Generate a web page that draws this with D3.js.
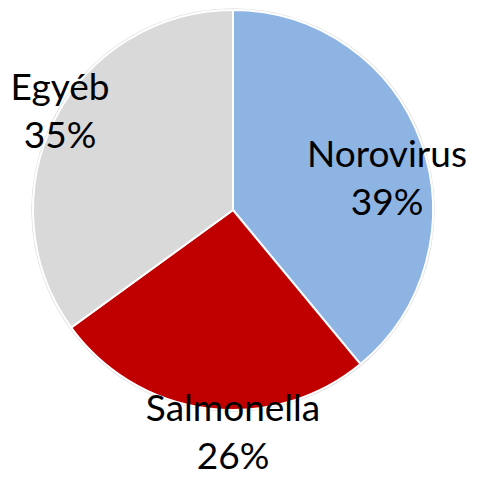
<!DOCTYPE html>
<html>
<head>
<meta charset="utf-8">
<script src="https://cdn.jsdelivr.net/npm/d3@7/dist/d3.min.js"></script>
<style>
  body { margin: 0; background: #fff; }
  svg text { font-family: Lato, "Open Sans", sans-serif; fill: #000; }
</style>
</head>
<body>
<div id="viz"></div>
<script>
var categories = ['Norovirus', 'Salmonella', 'Egyéb'];
var values = [39, 26, 35];
var percentLabels = ['39%', '26%', '35%'];
var colors = ['#8EB4E3', '#C00000', '#D9D9D9'];

var width = 477,
    height = 478,
    cx = 233,
    cy = 210,
    radius = 200;

var svg = d3.select('#viz').append('svg')
  .attr('width', width)
  .attr('height', height);

var pie = d3.pie().sort(null).value(function(d) { return d; });
var arc = d3.arc().innerRadius(0).outerRadius(radius);

var g = svg.append('g')
  .attr('transform', 'translate(' + cx + ',' + cy + ')');

// soft edge around the pie
g.append('circle')
  .attr('r', radius + 1)
  .attr('fill', 'none')
  .attr('stroke', '#c8c8c8')
  .attr('stroke-width', 1.5)
  .attr('opacity', 0.6);

var arcs = pie(values);

g.selectAll('path').data(arcs)
  .enter().append('path')
    .attr('d', arc)
    .attr('fill', function(d, i) { return colors[i]; })
    .attr('stroke', '#fff')
    .attr('stroke-width', 2);

// label positions (offset from pie centre, picked by eye)
var labelPos = [[154, -43], [0, 211], [-173, -110]];

var labels = g.selectAll('text.lbl').data(arcs)
  .enter().append('text')
    .attr('class', 'lbl')
    .attr('text-anchor', 'middle')
    .attr('font-size', 37)
    .attr('transform', function(d, i) {
      return 'translate(' + labelPos[i][0] + ',' + labelPos[i][1] + ')';
    });

labels.append('tspan')
  .attr('x', 0)
  .attr('y', 0)
  .text(function(d, i) { return categories[i]; });

labels.append('tspan')
  .attr('x', 0)
  .attr('y', 48)
  .text(function(d, i) { return percentLabels[i]; });
</script>
</body>
</html>
